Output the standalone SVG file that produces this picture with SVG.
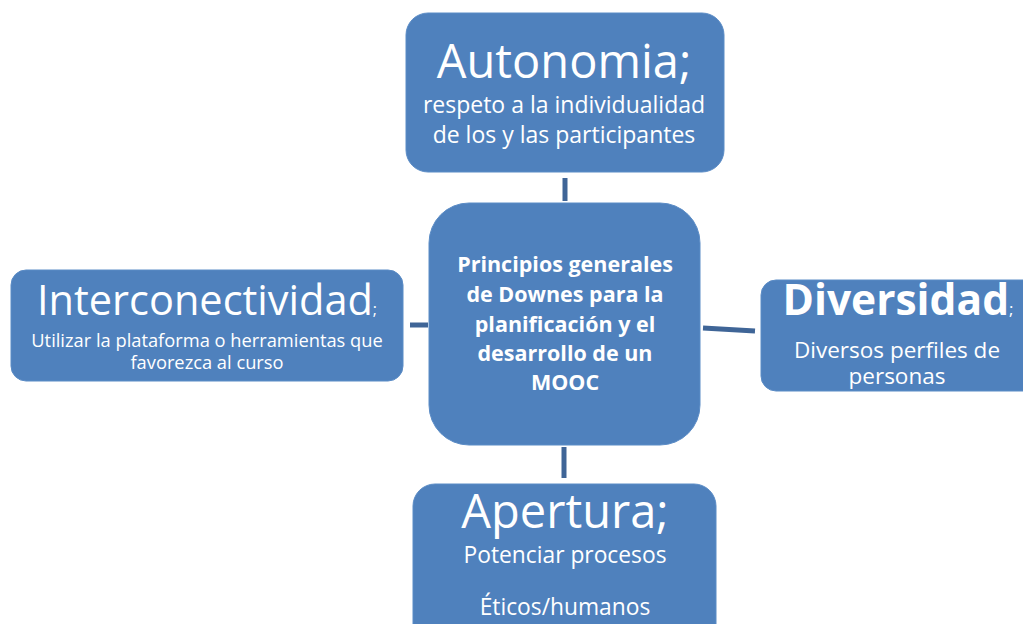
<svg xmlns="http://www.w3.org/2000/svg" width="1023" height="624" viewBox="0 0 1023 624">
<style>
.box{fill:#4f81bd;stroke:#5b8cc6;stroke-width:1}
.t{fill:#ffffff;font-family:"Open Sans","Noto Sans",sans-serif;text-anchor:middle}
.b{font-weight:bold}
.conn{stroke:#3f6597;stroke-width:5;fill:none}
</style>
<rect width="1023" height="624" fill="#ffffff"/>
<g id="connectors">
<line class="conn" x1="565" y1="178" x2="565" y2="201"/>
<line class="conn" x1="410" y1="325" x2="428" y2="325"/>
<line class="conn" x1="703" y1="328" x2="755" y2="331"/>
<line class="conn" x1="564" y1="447" x2="564" y2="478"/>
</g>
<g id="center">
<rect class="box" x="429" y="203" width="271" height="242" rx="40"/>
<text class="t b" font-size="21.5" x="565" y="272">Principios generales</text>
<text class="t b" font-size="21.5" x="565" y="302">de Downes para la</text>
<text class="t b" font-size="21.5" x="565" y="332">planificación y el</text>
<text class="t b" font-size="21.5" x="565" y="361">desarrollo de un</text>
<text class="t b" font-size="21.5" x="565" y="390">MOOC</text>
</g>
<g id="autonomia">
<rect class="box" x="406" y="13" width="318" height="159" rx="22"/>
<text class="t" font-size="47" x="564" y="78">Autonomia;</text>
<text class="t" font-size="23" x="564" y="113">respeto a la individualidad</text>
<text class="t" font-size="23" x="564" y="143">de los y las participantes</text>
</g>
<g id="interconectividad">
<rect class="box" x="11" y="270" width="392" height="111" rx="15"/>
<text class="t" x="207" y="315"><tspan font-size="41.5">Interconectividad</tspan><tspan font-size="16">;</tspan></text>
<text class="t" font-size="18.3" x="207" y="347">Utilizar la plataforma o herramientas que</text>
<text class="t" font-size="18.3" x="207" y="369">favorezca al curso</text>
</g>
<g id="diversidad">
<rect class="box" x="761" y="280" width="290" height="111" rx="15"/>
<text class="t" x="898" y="315"><tspan class="b" font-size="42.5">Diversidad</tspan><tspan font-size="17">;</tspan></text>
<text class="t" font-size="22.5" x="897" y="358">Diversos perfiles de</text>
<text class="t" font-size="22.5" x="897" y="384">personas</text>
</g>
<g id="apertura">
<rect class="box" x="413" y="484" width="303" height="170" rx="22"/>
<text class="t" font-size="47" x="565" y="528">Apertura;</text>
<text class="t" font-size="22.8" x="565" y="563">Potenciar procesos</text>
<text class="t" font-size="22.8" x="565" y="615">Éticos/humanos</text>
</g>
</svg>
